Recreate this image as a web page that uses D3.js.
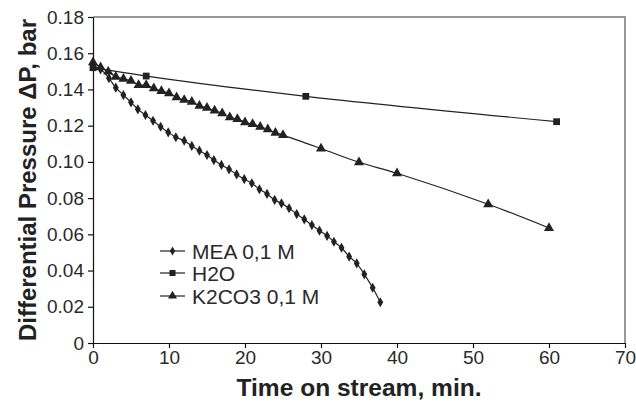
<!DOCTYPE html>
<html><head><meta charset="utf-8">
<script src="https://cdn.jsdelivr.net/npm/d3@7"></script>
<style>body{margin:0;background:#fff}svg{display:block}text{font-family:"Liberation Sans",Arial,sans-serif}</style>
</head><body><svg id="c" width="636" height="403"></svg>
<script>
const seriesNames = ["MEA 0,1 M", "H2O", "K2CO3 0,1 M"];
const meaTime = [0,1,2.1,3,4,5,5.9,6.9,7.9,8.9,9.9,10.9,12,13,14,15,15.9,16.9,17.9,18.9,19.9,20.9,21.9,22.9,23.9,24.8,25.8,26.8,27.8,28.8,29.8,30.8,31.7,32.7,33.7,34.7,35.7,36.8,37.8];
const meaDP = [0.153,0.1511,0.1462,0.141,0.1369,0.1329,0.129,0.1259,0.1227,0.1194,0.1163,0.1136,0.1117,0.1088,0.1062,0.1038,0.101,0.0983,0.0959,0.0931,0.0905,0.0882,0.0849,0.0823,0.079,0.0771,0.0744,0.0712,0.0683,0.0651,0.062,0.0592,0.0559,0.0526,0.0477,0.044,0.0379,0.0305,0.0225];
const h2oTime = [0,7,28,61];
const h2oDP = [0.152,0.1474,0.1362,0.1222];
const k2Time = [0,1,2,3,4,5,6,7,8,9,10,11,12,13,14,15,16,17,18,19,20,21,22,23,24,25,30,35,40,52,60];
const k2DP = [0.155,0.1522,0.1498,0.147,0.1458,0.1448,0.1424,0.1424,0.1406,0.1391,0.1379,0.1357,0.1342,0.1332,0.131,0.1299,0.1283,0.1268,0.1246,0.1237,0.1219,0.1209,0.1194,0.118,0.1161,0.1148,0.1074,0.0998,0.0937,0.0766,0.0635];
const xTicks = [0,10,20,30,40,50,60,70];
const yTicks = [0,0.02,0.04,0.06,0.08,0.10,0.12,0.14,0.16,0.18];
const yTickLabels = ["0","0.02","0.04","0.06","0.08","0.10","0.12","0.14","0.16","0.18"];

const svg = d3.select("#c");
const L=93,R=625,T=17,B=343;
const x = d3.scaleLinear().domain([0,70]).range([L,R]);
const y = d3.scaleLinear().domain([0,0.18]).range([B,T]);
const ink="#222";

svg.append("path").attr("d",`M${L},${T}H${R}V${B}`).attr("fill","none").attr("stroke","#777").attr("stroke-width",1.5);

const xa = svg.append("g").attr("transform",`translate(0,${B})`)
  .call(d3.axisBottom(x).tickValues(xTicks).tickSize(5).tickSizeOuter(0).tickPadding(3));
const ya = svg.append("g").attr("transform",`translate(${L},0)`)
  .call(d3.axisLeft(y).tickValues(yTicks).tickFormat((d,i)=>yTickLabels[i]).tickSize(5).tickSizeOuter(0).tickPadding(4));
[xa,ya].forEach(g=>{
  g.selectAll("path,line").attr("stroke","#111").attr("stroke-width",1.2);
  g.selectAll("text").attr("font-size",19).attr("fill","#2a2a2a").attr("font-family","Liberation Sans, Arial, sans-serif");
});

const line = d3.line().curve(d3.curveCatmullRom.alpha(0.5)).x(d=>x(d[0])).y(d=>y(d[1]));
const data = [
  {pts: meaTime.map((t,i)=>[t,meaDP[i]]), sym: d3.symbolDiamond, size: 30},
  {pts: h2oTime.map((t,i)=>[t,h2oDP[i]]), sym: d3.symbolSquare, size: 46},
  {pts: k2Time.map((t,i)=>[t,k2DP[i]]), sym: d3.symbolTriangle, size: 44}
];
data.forEach(s=>{
  svg.append("path").datum(s.pts).attr("d",line).attr("fill","none").attr("stroke",ink).attr("stroke-width",1.2);
  svg.append("g").selectAll("path").data(s.pts).join("path")
    .attr("d",d3.symbol().type(s.sym).size(s.size))
    .attr("transform",d=>`translate(${x(d[0])},${y(d[1])})`).attr("fill",ink);
});

const ly=[251,273,296];
data.forEach((s,i)=>{
  const g=svg.append("g").attr("transform",`translate(0,${ly[i]})`);
  g.append("line").attr("x1",160).attr("x2",185).attr("stroke",ink).attr("stroke-width",1.2);
  g.append("path").attr("d",d3.symbol().type(s.sym).size(s.size*0.8)).attr("transform","translate(172.5,0)").attr("fill",ink);
  g.append("text").attr("x",192).attr("y",8).attr("font-size",21).attr("fill","#2a2a2a").text(seriesNames[i]);
});

svg.append("text").attr("x",359).attr("y",396).attr("text-anchor","middle").attr("font-size",23).attr("font-weight","bold").attr("fill","#222")
  .attr("textLength",245).attr("lengthAdjust","spacingAndGlyphs").text("Time on stream, min.");
svg.append("text").attr("transform","translate(36,180) rotate(-90)").attr("text-anchor","middle").attr("font-size",24).attr("font-weight","bold").attr("fill","#222")
  .attr("textLength",322).attr("lengthAdjust","spacingAndGlyphs").text("Differential Pressure ΔP, bar");
</script></body></html>
